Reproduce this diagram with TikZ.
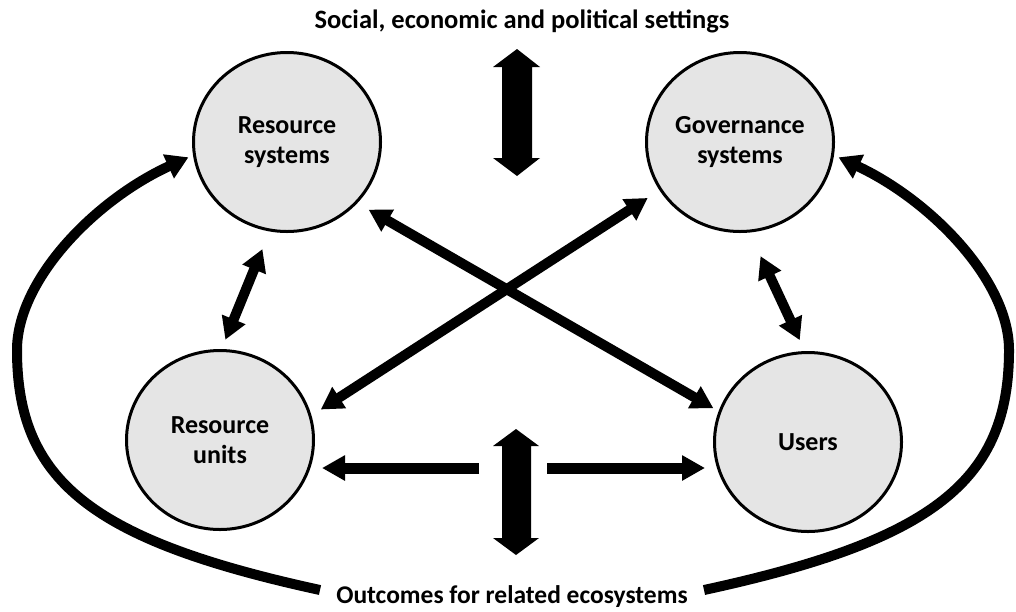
\documentclass[tikz,border=0pt]{standalone}
\usepackage{fontspec}
\setmainfont{Carlito}
\usetikzlibrary{arrows.meta,shapes.geometric}
\definecolor{nodefill}{RGB}{229,229,229}
\begin{document}
\begin{tikzpicture}[x=1pt,y=-1pt,
  sysnode/.style={ellipse, draw=black, line width=3pt, fill=nodefill,
    minimum width=187pt, minimum height=179pt, inner sep=0pt, align=center,
    font=\fontsize{26}{30}\selectfont\bfseries},
  twoway/.style={line width=10pt, {Triangle[length=22pt,width=24pt]}-{Triangle[length=22pt,width=24pt]}},
  oneway/.style={line width=11pt, -{Triangle[length=23pt,width=24pt]}},
  loopway/.style={line width=10pt, -{Triangle[length=22pt,width=25pt]}},
  label text/.style={font=\fontsize{26.5}{30}\selectfont\bfseries, anchor=base, inner sep=0pt},
  block/.style={fill=black}
]
\useasboundingbox (0,0) rectangle (1016,611);

% nodes
\node[sysnode] (rs) at (287,142) {Resource\\systems};
\node[sysnode] (gs) at (740,142) {Governance\\systems};
\node[sysnode] (ru) at (220,440) {Resource\\units};
\node[sysnode] (us) at (808,442) {Users};

\node[label text] (title) at (522,28) {Social, economic and political settings};
\node[label text, font=\fontsize{25.5}{30}\selectfont\bfseries] (outc) at (512,603) {Outcomes for related ecosystems};

% block arrows
\fill[block] (502,67) -- (493,67) -- (517,49) -- (540,67) -- (532,67) -- (532,158)
  -- (540,158) -- (517,176) -- (493,158) -- (502,158) -- cycle;
\fill[block] (502,446) -- (493,446) -- (516,429) -- (539,446) -- (531,446) -- (531,538)
  -- (539,538) -- (516,555) -- (493,538) -- (502,538) -- cycle;

% short two-way arrows
\draw[twoway, shorten <=19pt, shorten >=10pt] (rs.259) -- (ru.89);
\draw[twoway, shorten <=26pt, shorten >=12pt] (gs.276) -- (us.92);

% crossing arrows
\draw[twoway, shorten <=13pt, shorten >=6pt] (rs.319) -- (us.161);
\draw[twoway, shorten <=14pt, shorten >=11pt] (gs.211) -- (ru.15);

% horizontal arrows
\coordinate (hl) at (479,468);
\coordinate (hr) at (547,468);
\draw[oneway, shorten >=7pt] (hl) -- (hl -| ru.east);
\draw[oneway, shorten >=8pt] (hr) -- (hr -| us.west);

% outer loops
\coordinate (lb) at (320,590);
\coordinate (lm) at (17,350);
\coordinate (rb) at (704,590);
\coordinate (rm) at (1009,350);
\draw[loopway, shorten >=5pt] (lb) .. controls (90,540) and (17,480) .. (lm)
  .. controls (17,280) and (95,200) .. (rs.188);
\draw[loopway, shorten >=5pt] (rb) .. controls (935,540) and (1009,480) .. (rm)
  .. controls (1009,280) and (930,200) .. (gs.352);
\end{tikzpicture}
\end{document}
